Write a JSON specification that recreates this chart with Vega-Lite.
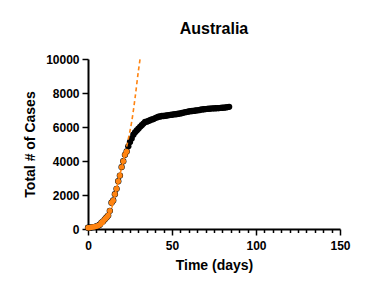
{
  "$schema": "https://vega.github.io/schema/vega-lite/v6.json",
  "width": 252,
  "height": 170,
  "autosize": {"type": "none"},
  "padding": {"left": 88, "top": 59, "right": 40, "bottom": 62},
  "background": "white",
  "title": {"text": "Australia", "fontSize": 16, "font": "Liberation Sans", "fontWeight": "bold", "color": "black", "frame": "group", "anchor": "middle", "offset": 3, "baseline": "alphabetic"},
  "config": {
    "view": {"stroke": null},
    "axis": {"grid": false, "domainColor": "black", "domainWidth": 2, "tickColor": "black", "tickWidth": 1.5, "labelFont": "Liberation Sans", "labelFontWeight": "bold", "labelFontSize": 12, "labelColor": "black", "titleFont": "Liberation Sans", "titleFontWeight": "bold", "titleFontSize": 14, "titleColor": "black", "labelOverlap": false, "labelFlush": false}
  },
  "datasets": {
    "cases": [
      {"day":0,"cases":74},{"day":1,"cases":80},{"day":2,"cases":100},{"day":3,"cases":112},{"day":4,"cases":126},{"day":5,"cases":156},{"day":6,"cases":197},{"day":7,"cases":249},{"day":8,"cases":377},{"day":9,"cases":452},{"day":10,"cases":568},{"day":11,"cases":681},{"day":12,"cases":791},{"day":13,"cases":1071},{"day":14,"cases":1549},{"day":15,"cases":1682},{"day":16,"cases":2044},{"day":17,"cases":2364},{"day":18,"cases":2810},{"day":19,"cases":3143},{"day":20,"cases":3640},{"day":21,"cases":3984},{"day":22,"cases":4361},{"day":23,"cases":4559},
      {"day":24,"cases":4862},{"day":25,"cases":5116},{"day":26,"cases":5330},{"day":27,"cases":5550},{"day":28,"cases":5687},{"day":29,"cases":5797},{"day":30,"cases":5895},{"day":31,"cases":6010},{"day":32,"cases":6103},{"day":33,"cases":6203},{"day":34,"cases":6292},{"day":35,"cases":6313},{"day":36,"cases":6359},{"day":37,"cases":6400},{"day":38,"cases":6447},{"day":39,"cases":6468},{"day":40,"cases":6523},{"day":41,"cases":6565},{"day":42,"cases":6606},{"day":43,"cases":6619},{"day":44,"cases":6645},{"day":45,"cases":6649},{"day":46,"cases":6661},{"day":47,"cases":6675},{"day":48,"cases":6695},{"day":49,"cases":6714},{"day":50,"cases":6721},{"day":51,"cases":6744},{"day":52,"cases":6752},{"day":53,"cases":6766},
      {"day":54,"cases":6778},{"day":55,"cases":6799},{"day":56,"cases":6822},{"day":57,"cases":6847},{"day":58,"cases":6875},{"day":59,"cases":6894},{"day":60,"cases":6913},{"day":61,"cases":6929},{"day":62,"cases":6941},{"day":63,"cases":6948},{"day":64,"cases":6970},{"day":65,"cases":6980},{"day":66,"cases":6989},{"day":67,"cases":7019},{"day":68,"cases":7035},{"day":69,"cases":7044},{"day":70,"cases":7054},{"day":71,"cases":7068},{"day":72,"cases":7072},{"day":73,"cases":7081},{"day":74,"cases":7095},{"day":75,"cases":7099},{"day":76,"cases":7105},{"day":77,"cases":7109},{"day":78,"cases":7114},{"day":79,"cases":7126},{"day":80,"cases":7133},{"day":81,"cases":7139},{"day":82,"cases":7150},{"day":83,"cases":7173},{"day":84,"cases":7185}
    ],
    "fit": [
      {"day":0,"cases":30},{"day":4,"cases":70},{"day":8,"cases":200},{"day":10,"cases":380},{"day":12,"cases":700},{"day":14,"cases":1200},{"day":16,"cases":2000},{"day":18,"cases":2800},{"day":20,"cases":3600},{"day":22,"cases":4400},{"day":24,"cases":5300},{"day":26,"cases":6300},{"day":28,"cases":7700},{"day":30,"cases":9300},{"day":31,"cases":10000}
    ]
  },
  "encoding": {
    "x": {"field": "day", "type": "quantitative", "scale": {"domain": [0, 150], "nice": false},
      "axis": {"title": "Time (days)", "values": [0,5,10,15,20,25,30,35,40,45,50,55,60,65,70,75,80,85,90,95,100,105,110,115,120,125,130,135,140,145,150],
        "labelExpr": "datum.value % 50 === 0 ? datum.label : ''",
        "tickSize": {"condition": {"test": "datum.value % 50 === 0", "value": 6}, "value": 3.5},
        "labelPadding": 5, "titlePadding": 7}},
    "y": {"field": "cases", "type": "quantitative", "scale": {"domain": [0, 10000], "nice": false},
      "axis": {"title": "Total # of Cases", "format": "d", "values": [0,2000,4000,6000,8000,10000], "tickSize": 6, "labelPadding": 3, "titlePadding": 8}}
  },
  "layer": [
    {"data": {"name": "cases"}, "mark": {"type": "circle", "size": 40, "opacity": 1, "color": "black"}},
    {"data": {"name": "fit"}, "mark": {"type": "line", "color": "#FF8411", "strokeWidth": 1.6, "strokeDash": [4, 3], "interpolate": "monotone"}},
    {"data": {"name": "cases"}, "transform": [{"filter": "datum.day <= 23"}], "mark": {"type": "circle", "size": 30, "opacity": 1, "color": "#FF8411"}}
  ]
}
